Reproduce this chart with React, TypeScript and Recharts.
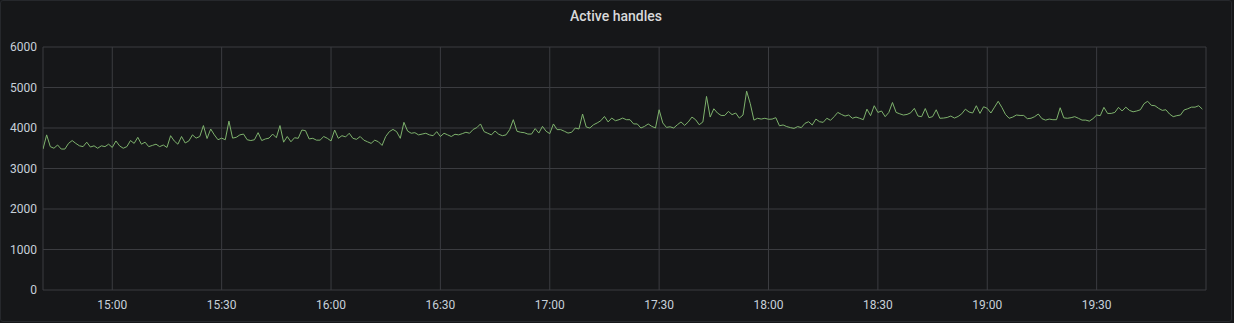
import React from "react";
import { LineChart, Line, XAxis, YAxis, CartesianGrid } from "recharts";

const title = "Active handles";
const startTime = "14:41";
const endTime = "20:00";
const stepMinutes = 1;
const xTickLabels = ["15:00", "15:30", "16:00", "16:30", "17:00", "17:30", "18:00", "18:30", "19:00", "19:30"];
const yTicks = [0, 1000, 2000, 3000, 4000, 5000, 6000];

// one value per minute starting at 14:41
const activeHandles = [
  // 14:41 - 15:44
  3480, 3830, 3540, 3500, 3580, 3480, 3480, 3620, 3690, 3620, 3560, 3540, 3650, 3530, 3560, 3500,
  3560, 3540, 3600, 3520, 3680, 3560, 3500, 3540, 3690, 3620, 3770, 3600, 3650, 3540, 3570, 3600,
  3540, 3580, 3520, 3810, 3680, 3600, 3790, 3630, 3680, 3830, 3750, 3790, 4060, 3740, 3975, 3830,
  3710, 3750, 3710, 4170, 3750, 3770, 3830, 3850, 3710, 3690, 3710, 3885, 3690, 3730, 3750, 3850,
  // 15:45 - 16:48
  3760, 4060, 3650, 3790, 3660, 3760, 3745, 3950, 3935, 3730, 3745, 3700, 3700, 3790, 3745, 3680,
  3950, 3745, 3810, 3780, 3870, 3745, 3720, 3790, 3700, 3660, 3620, 3700, 3660, 3570, 3790, 3910,
  3965, 3910, 3745, 4140, 3925, 3870, 3885, 3830, 3850, 3870, 3830, 3810, 3910, 3790, 3870, 3830,
  3790, 3845, 3830, 3860, 3895, 3870, 3965, 4010, 4100, 3910, 3870, 3830, 3925, 3845, 3810, 3830,
  // 16:49 - 17:52
  3960, 4205, 3920, 3895, 3885, 3850, 3850, 3985, 3875, 4040, 3920, 3860, 4100, 3960, 3960, 3920,
  3875, 3895, 4000, 3975, 4345, 4025, 4000, 4080, 4125, 4180, 4285, 4150, 4245, 4180, 4205, 4245,
  4205, 4205, 4100, 4100, 4000, 4040, 4100, 4040, 4000, 4450, 4125, 4015, 4030, 4000, 4080, 4150,
  4065, 4150, 4270, 4205, 4080, 4150, 4780, 4270, 4475, 4370, 4310, 4310, 4410, 4330, 4370, 4245,
  // 17:53 - 18:55
  4320, 4910, 4600, 4195, 4240, 4220, 4240, 4215, 4220, 4255, 4055, 4075, 4035, 4010, 3990, 4035,
  4010, 4115, 4155, 4075, 4220, 4155, 4140, 4240, 4190, 4280, 4385, 4335, 4295, 4320, 4240, 4270,
  4240, 4205, 4465, 4305, 4550, 4385, 4420, 4280, 4385, 4630, 4385, 4350, 4320, 4335, 4375, 4485,
  4295, 4280, 4480, 4255, 4280, 4450, 4240, 4245, 4260, 4295, 4245, 4285, 4350, 4465, 4395,
  // 18:56 - 19:59
  4370, 4550, 4360, 4525, 4485, 4370, 4515, 4660, 4510, 4335, 4240, 4270, 4320, 4310, 4310, 4230,
  4240, 4280, 4345, 4230, 4195, 4220, 4205, 4205, 4500, 4250, 4240, 4255, 4280, 4240, 4195, 4195,
  4170, 4230, 4320, 4305, 4510, 4360, 4360, 4385, 4510, 4420, 4515, 4435, 4400, 4420, 4450, 4600,
  4660, 4560, 4550, 4485, 4435, 4450, 4345, 4280, 4305, 4320, 4445, 4475, 4515, 4515, 4550, 4465,
];

const toMin = (s: string) => {
  const [h, m] = s.split(":").map(Number);
  return h * 60 + m;
};
const fmt = (v: number) => {
  const h = Math.floor(v / 60);
  const m = Math.round(v - h * 60);
  return `${String(h).padStart(2, "0")}:${String(m).padStart(2, "0")}`;
};

const data = activeHandles.map((v, i) => ({ t: toMin(startTime) + i * stepMinutes, v }));
const xTicks = xTickLabels.map(toMin);

const tickStyle = { fill: "#c7d0d9", fontSize: 12, fontFamily: "Roboto, sans-serif" };

export default function App() {
  return (
    <div style={{ position: "relative", width: 1234, height: 323, background: "#161719", overflow: "hidden" }}>
      <style>{"body{margin:0;background:#161719;}"}</style>
      <div
        style={{
          position: "absolute",
          left: 0,
          top: 0,
          width: 1232,
          height: 322,
          boxSizing: "border-box",
          border: "1px solid #26282c",
          borderRadius: 3,
        }}
      />
      <div
        style={{
          position: "absolute",
          left: 0,
          top: 8,
          width: 1232,
          textAlign: "center",
          fontFamily: "Roboto, sans-serif",
          fontSize: 14,
          fontWeight: 500,
          lineHeight: "16px",
          color: "#d8d9da",
        }}
      >
        {title}
      </div>
      <div style={{ position: "absolute", left: 0, top: 0 }}>
        <LineChart width={1234} height={323} data={data} margin={{ top: 47, right: 28, bottom: 0, left: 0 }}>
          <CartesianGrid stroke="#3b3c40" strokeWidth={1} />
          <XAxis
            dataKey="t"
            type="number"
            domain={[toMin(startTime), toMin(endTime)]}
            ticks={xTicks}
            tickFormatter={fmt}
            axisLine={false}
            tickLine={false}
            tickSize={0}
            tickMargin={10}
            height={33}
            tick={tickStyle}
            allowDataOverflow
            interval={0}
          />
          <YAxis
            type="number"
            domain={[0, 6000]}
            ticks={yTicks}
            axisLine={false}
            tickLine={false}
            tickSize={0}
            tickMargin={6}
            width={43}
            tick={tickStyle}
            interval={0}
          />
          <Line
            type="linear"
            dataKey="v"
            stroke="#7EB26D"
            strokeWidth={1}
            dot={false}
            activeDot={false}
            isAnimationActive={false}
          />
        </LineChart>
      </div>
    </div>
  );
}
